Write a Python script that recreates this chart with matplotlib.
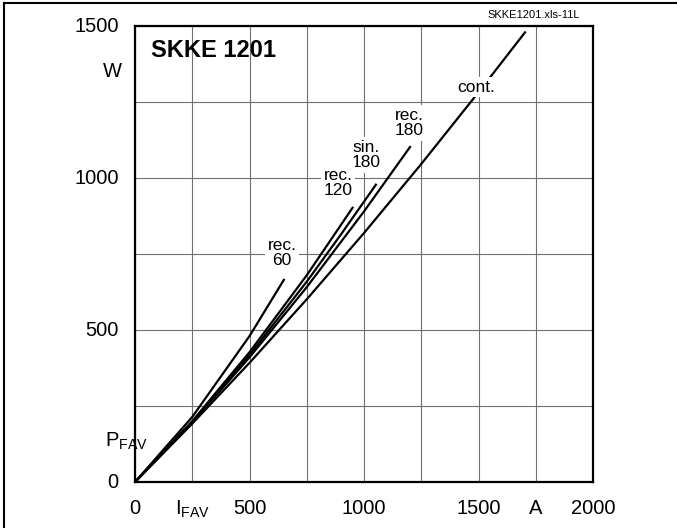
import matplotlib
matplotlib.use("Agg")
import matplotlib.pyplot as plt
from matplotlib.lines import Line2D

plt.rcParams["font.family"] = ["Liberation Sans", "DejaVu Sans"]

# on-state power loss P_FAV (W) vs average current I_FAV (A)
cont_i = [0, 250, 500, 750, 1000, 1250, 1500, 1703]
cont_p = [0, 192, 392, 601, 819, 1046, 1282, 1479]

rec180_i = [0, 250, 500, 750, 1000, 1201]
rec180_p = [0, 196, 410, 641, 890, 1102]

sin180_i = [0, 250, 500, 750, 900, 1052]
sin180_p = [0, 198, 418, 659, 815, 978]

rec120_i = [0, 250, 500, 750, 950]
rec120_p = [0, 200, 427, 680, 902]

rec60_i = [0, 250, 500, 650]
rec60_p = [0, 214, 480, 665]

labels = ["cont.", "rec.\n180", "sin.\n180", "rec.\n120", "rec.\n60"]
label_x = [1488, 1197, 1009, 886, 642]
label_y = [1299, 1181, 1076, 984, 753]

xticks = [0, 500, 1000, 1500, 2000]
yticks = [0, 500, 1000, 1500]

fig = plt.figure(figsize=(6.77, 5.28), dpi=100)
ax = fig.add_axes([135 / 677, 46 / 528, 458 / 677, 456 / 528])

for xs, ys in [(cont_i, cont_p), (rec180_i, rec180_p), (sin180_i, sin180_p),
               (rec120_i, rec120_p), (rec60_i, rec60_p)]:
    ax.plot(xs, ys, color="black", linewidth=1.6, zorder=3)

for txt, lx, ly in zip(labels, label_x, label_y):
    ax.text(lx, ly, txt, fontsize=12.5, ha="center", va="center", linespacing=1.0,
            bbox=dict(facecolor="white", edgecolor="none", pad=2), zorder=4)

ax.set_xlim(0, 2000)
ax.set_ylim(0, 1500)
ax.set_xticks(range(0, 2001, 250))
ax.set_yticks(range(0, 1501, 250))
ax.grid(True, color="#707070", linewidth=0.8, zorder=0)
ax.set_axisbelow(True)
ax.tick_params(length=0, labelbottom=False, labelleft=False)
for s in ax.spines.values():
    s.set_linewidth(1.6)

for t in xticks:
    ax.text(t, -55, str(t), fontsize=14.5, ha="center", va="top")
for t in yticks:
    ax.text(-72, t, str(t), fontsize=14.5, ha="right", va="center")

ax.text(-100, 1350, "W", fontsize=14.5, ha="center", va="center")
ax.text(-130, 135, r"P$_\mathregular{FAV}$", fontsize=14.5, ha="left", va="center")
ax.text(250, -55, r"I$_\mathregular{FAV}$", fontsize=14.5, ha="center", va="top")
ax.text(1750, -55, "A", fontsize=14.5, ha="center", va="top")

ax.text(70, 1420, "SKKE 1201", fontsize=17, fontweight="bold", ha="left", va="center",
        zorder=4)
ax.text(1740, 1520, "SKKE1201.xls-11L", fontsize=8, ha="center", va="bottom")

fig.add_artist(Line2D([4 / 677, 4 / 677], [0, 525 / 528], transform=fig.transFigure,
                      color="black", linewidth=1.5))
fig.add_artist(Line2D([4 / 677, 1], [525 / 528, 525 / 528], transform=fig.transFigure,
                      color="black", linewidth=1.5))

fig.savefig("out.png", dpi=100)
